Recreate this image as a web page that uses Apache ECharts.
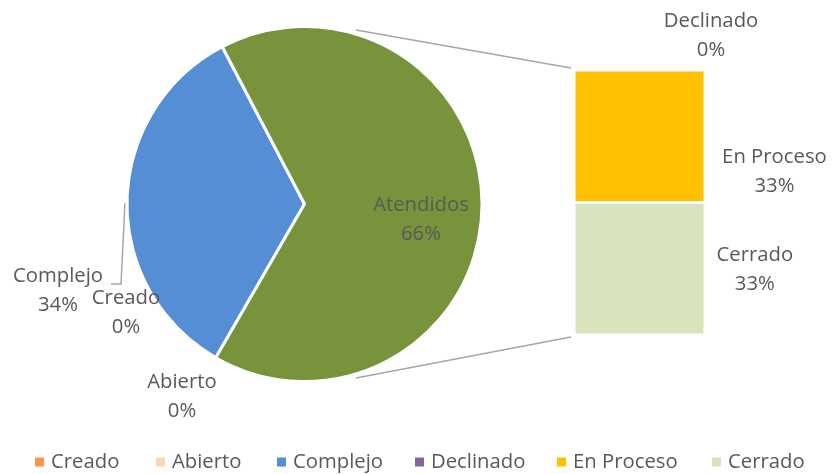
<!DOCTYPE html>
<html><head><meta charset="utf-8">
<script src="https://cdn.jsdelivr.net/npm/echarts@6/dist/echarts.min.js"></script>
<style>html,body{margin:0;padding:0;background:#fff}#c{width:833px;height:474px}</style>
</head><body><div id="c"></div>
<script>
// ---- data ----
const pieNames = ['Creado', 'Abierto', 'Complejo', 'Atendidos'];
const pieValues = [0, 0, 34, 66];
const barNames = ['Cerrado', 'En Proceso', 'Declinado']; // bottom to top
const barValues = [33, 33, 0];
const legendNames = ['Creado', 'Abierto', 'Complejo', 'Declinado', 'En Proceso', 'Cerrado'];

// ---- styles / layout ----
const colors = {
  'Creado': '#F79646', 'Abierto': '#FCD5B5', 'Complejo': '#558ED5', 'Atendidos': '#77933C',
  'Declinado': '#8064A2', 'En Proceso': '#FFC000', 'Cerrado': '#D7E4BD'
};
const FONT = 'Open Sans';
const FS = 20.3;
const TXT = '#595959';
const LH = 29;
const pieCenter = [304.5, 204];
const pieR = 177.5;
const pieLabelPos = { 'Creado': [126, 313], 'Abierto': [182, 397], 'Complejo': [58, 291], 'Atendidos': [421, 220] };
const barLabelPos = { 'Cerrado': ['138%', '51%'], 'En Proceso': ['153%', '77%'], 'Declinado': ['104%', -34] };
const legendLeft = [35, 156, 277, 415, 557, 712];
const barGrid = { left: 574, top: 70, width: 131, height: 265 };

const chart = echarts.init(document.getElementById('c'), null, { renderer: 'canvas' });

const barTotal = barValues.reduce((a, b) => a + b, 0);

const option = {
  animation: false,
  textStyle: { fontFamily: FONT },
  grid: barGrid,
  xAxis: { type: 'category', data: [''], show: false },
  yAxis: { type: 'value', min: 0, max: barTotal, show: false },
  legend: legendNames.map((n, i) => ({
    data: [n], left: legendLeft[i], top: 450, icon: 'rect', itemWidth: 9, itemHeight: 9,
    itemGap: 0, padding: 0, selectedMode: false,
    itemStyle: { borderWidth: 0 },
    textStyle: { color: TXT, fontSize: FS, fontFamily: FONT, lineHeight: 24, padding: [0, 0, 0, 2] }
  })),
  series: [
    {
      type: 'pie', center: pieCenter, radius: pieR, startAngle: 240, clockwise: true,
      avoidLabelOverlap: false,
      itemStyle: { borderColor: '#fff', borderWidth: 3 },
      label: {
        show: true, position: 'outside', color: TXT, fontSize: FS, fontFamily: FONT, lineHeight: LH,
        formatter: p => p.name + '\n' + pieValues[p.dataIndex] + '%'
      },
      labelLine: { show: false },
      labelLayout: p => {
        const pos = pieLabelPos[pieNames[p.dataIndex]];
        return { x: pos[0], y: pos[1], align: 'center', verticalAlign: 'middle' };
      },
      emphasis: { disabled: true },
      data: pieNames.map((n, i) => ({ name: n, value: pieValues[i], itemStyle: { color: colors[n] } }))
    },
    ...barNames.map((n, i) => ({
      type: 'bar', name: n, stack: 'b', barWidth: '100%',
      data: [barValues[i]],
      itemStyle: { color: colors[n], borderColor: '#fff', borderWidth: 1.5 },
      emphasis: { disabled: true },
      label: {
        show: true, position: barLabelPos[n], align: 'center', verticalAlign: 'middle',
        color: TXT, fontSize: FS, fontFamily: FONT, lineHeight: LH,
        formatter: () => n + '\n' + barValues[i] + '%'
      }
    }))
  ]
};
chart.setOption(option);

// connector lines and leader line (decorations derived from layout constants)
const topLeft = chart.convertToPixel({ gridIndex: 0 }, [0, barTotal]);
const botLeft = chart.convertToPixel({ gridIndex: 0 }, [0, 0]);
const barLeftX = barGrid.left - 3;
const ang = 16.5 * Math.PI / 180;
const rr = pieR + 4;
const p1 = [pieCenter[0] + rr * Math.sin(ang), pieCenter[1] - rr * Math.cos(ang)];
const p2 = [pieCenter[0] + rr * Math.sin(ang), pieCenter[1] + rr * Math.cos(ang)];
const cl = pieLabelPos['Complejo'];
const leadStart = [pieCenter[0] - pieR - 2, pieCenter[1] - 1];
chart.setOption({
  graphic: [
    { type: 'line', shape: { x1: p1[0], y1: p1[1], x2: barLeftX, y2: topLeft[1] - 2 }, style: { stroke: '#A6A6A6', lineWidth: 1.5 }, silent: true },
    { type: 'line', shape: { x1: p2[0], y1: p2[1], x2: barLeftX, y2: botLeft[1] + 2 }, style: { stroke: '#A6A6A6', lineWidth: 1.5 }, silent: true },
    { type: 'polyline', shape: { points: [leadStart, [leadStart[0] - 4, cl[1] - 7], [cl[0] + 53, cl[1] - 7]] }, style: { stroke: '#A6A6A6', lineWidth: 1.5, fill: null }, silent: true }
  ]
});
</script>
</body></html>
